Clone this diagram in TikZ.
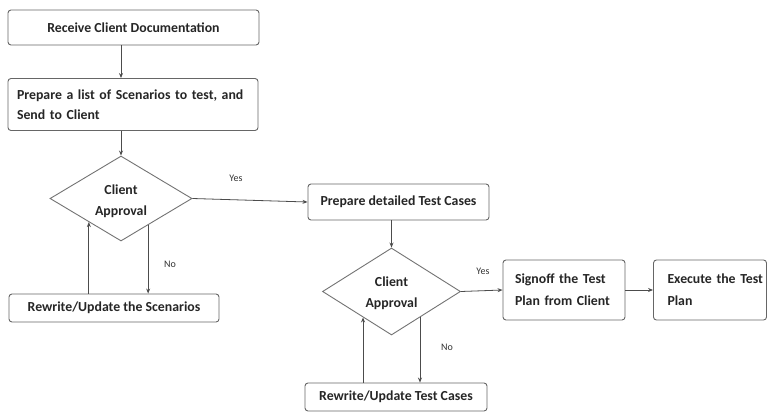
\documentclass[tikz,border=0pt]{standalone}
\usepackage{fontspec}
\setmainfont{Carlito}
\usetikzlibrary{shapes.geometric,calc,arrows.meta}
\newcommand{\fsz}[1]{\fontsize{13.8}{#1}\selectfont\bfseries}
\begin{document}
\begin{tikzpicture}[x=1pt,y=-1pt,
  every node/.style={text=black!85},
  stepbox/.style={draw=black!60, line width=0.9pt, rounded corners=3pt, inner sep=0pt},
  decision/.style={draw=black!55, line width=0.9pt, diamond, inner sep=0pt},
  dtext/.style={align=center, font=\fsz{21}},
  arr/.style={draw=black!70, line width=0.8pt, -{Stealth[length=5pt,width=4pt]}},
  lbl/.style={font=\fontsize{10}{12}\selectfont, text=black!80}]
\useasboundingbox (0,0) rectangle (767,412);
\fill[white] (0,0) rectangle (767,412);

% steps of the first review round
\node[stepbox, minimum width=251pt, minimum height=35pt, font=\fsz{16}] (b1) at (133.5,27.5) {Receive Client Documentation};
\node[stepbox, minimum width=250pt, minimum height=52pt, inner xsep=9pt, text width=232pt, align=left, font=\fsz{20}] (b2) at (133,104.5)
  {Prepare a list of Scenarios to test, and\\Send to Client};
\node[decision, minimum width=142pt, minimum height=85pt] (d1) at (121,198.5) {};
\node[dtext] (t1) at ($(d1.center)+(0,2.5)$) {Client\\Approval};
\node[stepbox, minimum width=210pt, minimum height=28pt, font=\fsz{16}] (b4) at (114,308) {Rewrite/Update the Scenarios};

% steps of the second review round
\node[stepbox, minimum width=181pt, minimum height=36pt, font=\fsz{16}] (b3) at (398.5,202) {Prepare detailed Test Cases};
\node[decision, minimum width=138pt, minimum height=87pt] (d2) at (391.5,291.5) {};
\node[dtext] (t2) at ($(d2.center)+(0,2)$) {Client\\Approval};
\node[stepbox, minimum width=182pt, minimum height=28pt, font=\fsz{16}] (b5) at (396,397) {Rewrite/Update Test Cases};
\node[stepbox, minimum width=122pt, minimum height=60pt, inner xsep=12pt, text width=98pt, align=left, font=\fsz{22}] (b6) at (564,290)
  {Signoff the Test\\Plan from Client};
\node[stepbox, minimum width=113pt, minimum height=60pt, inner xsep=14pt, text width=85pt, align=left, font=\fsz{22}] (b7) at (710,290)
  {\mbox{Execute the Test}\\Plan};

% connectors
\draw[arr] (b1.south -| d1.north) -- (b2.north -| d1.north);
\draw[arr] (b2.south -| d1.north) -- (d1.north);
\draw[arr] (d1.east) -- (b3.west);
\node[lbl] (y1) at (236,178) {Yes};

\coordinate (n1) at ($(d1.south)!0.38!(d1.east)$);
\coordinate (u1) at ($(d1.south)!0.45!(d1.west)$);
\draw[arr] (n1) -- (n1 |- b4.north);
\draw[arr] (u1 |- b4.north) -- (u1);
\node[lbl] (no1) at (170,264) {No};

\draw[arr] (b3.south -| d2.north) -- (d2.north);
\coordinate (n2) at ($(d2.south)!0.41!(d2.east)$);
\coordinate (u2) at ($(d2.south)!0.41!(d2.west)$);
\draw[arr] (n2) -- (n2 |- b5.north);
\draw[arr] (u2 |- b5.north) -- (u2);
\node[lbl] (no2) at (447,347) {No};

\draw[arr] (d2.east) -- (b6.west);
\node[lbl] (y2) at (483,271) {Yes};
\draw[arr] (b6.east) -- (b7.west);
\end{tikzpicture}
\end{document}
